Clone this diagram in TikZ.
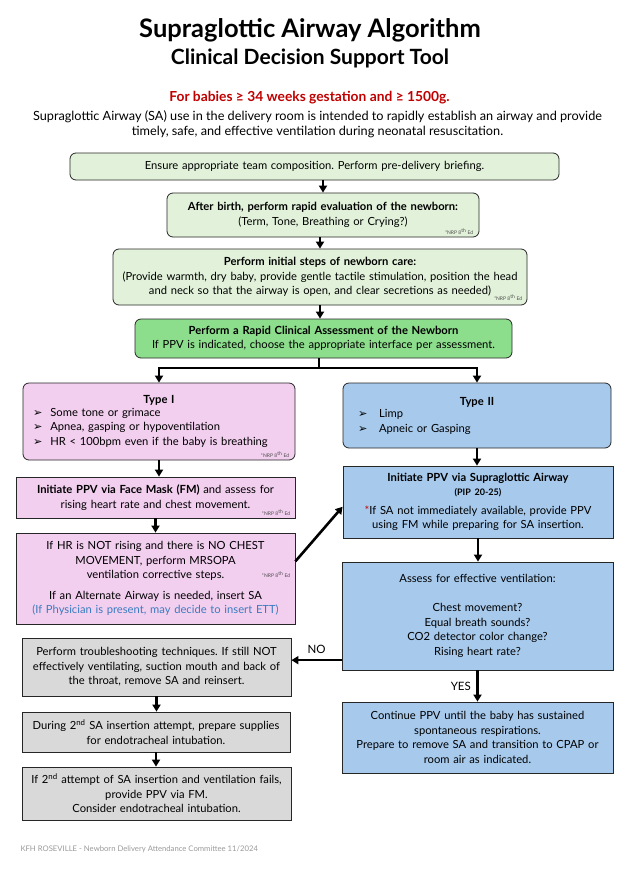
\documentclass[tikz,border=0pt]{standalone}
\usepackage{fontspec}
\setmainfont{Lato}
\newfontfamily\symfont{DejaVu Sans}
\usetikzlibrary{arrows.meta,positioning}
\definecolor{palegreen}{HTML}{E2F2DA}
\definecolor{midgreen}{HTML}{8CDD8C}
\definecolor{pinkfill}{HTML}{F2CEEF}
\definecolor{bluefill}{HTML}{A6C9EC}
\definecolor{grayfill}{HTML}{D9D9D9}
\definecolor{alertred}{HTML}{C00000}
\definecolor{linkblue}{HTML}{3A7CC0}
\newcommand{\nrp}{*NRP 8\textsuperscript{th} Ed}
\newcommand{\bul}[1][8pt]{\hspace*{#1}{\symfont ➢}\hspace{8pt}}
\frenchspacing

\begin{document}
\begin{tikzpicture}[x=1pt,y=-1pt,
  box/.style={draw=black!85, line width=0.8pt, align=center, inner sep=0pt,
    font=\fontsize{11.2}{14.5}\selectfont},
  soft/.style={box, rounded corners=6pt},
  wh/.code 2 args={\pgfmathsetmacro\tw{#1-4}\pgfkeysalso{/tikz/minimum width=#1pt,
    /tikz/minimum height=#2pt, /tikz/text width=\tw pt}},
  note/.style={font=\fontsize{5}{6}\selectfont, text=black!70, inner sep=0pt},
  arr/.style={line width=2.6pt, -{Triangle[length=7pt,width=8pt]}},
  link/.style={line width=2.6pt}]
\useasboundingbox (0,0) rectangle (635,879);
\node[anchor=base, font=\fontsize{25.5}{29}\selectfont\bfseries] (title) at (310,37) {Supraglottic Airway Algorithm};
\node[anchor=base, font=\fontsize{21}{24}\selectfont\bfseries] (subtitle) at (310,64) {Clinical Decision Support Tool};
\node[anchor=base, font=\fontsize{13.8}{16}\selectfont\bfseries, text=alertred] (scope) at (309.5,101) {For babies ≥ 34 weeks gestation and ≥ 1500g.};
\node[align=center, font=\fontsize{12.7}{15.5}\selectfont] (intro) at (317.5,124) {Supraglottic Airway (SA) use in the delivery room is intended to rapidly establish an airway and provide\\timely, safe, and effective ventilation during neonatal resuscitation.};

\node[soft, fill=palegreen, wh={489}{27}] (B1) at (314.5,166.5) {Ensure appropriate team composition. Perform pre-delivery briefing.};
\node[soft, fill=palegreen, wh={312}{44}] (B2) at (323,215) {\textbf{After birth, perform rapid evaluation of the newborn:}\\(Term, Tone, Breathing or Crying?)};
\node[note, above left=3pt and 6pt of B2.south east] {\nrp};
\node[soft, fill=palegreen, wh={414}{56}] (B3) at (320,277) {\textbf{Perform initial steps of newborn care:}\\(Provide warmth, dry baby, provide gentle tactile stimulation, position the head\\and neck so that the airway is open, and clear secretions as needed)};
\node[note, above left=5pt and 5pt of B3.south east] {\nrp};
\node[soft, fill=midgreen, wh={377}{39}] (B4) at (323.5,338.5) {\textbf{Perform a Rapid Clinical Assessment of the Newborn}\\If PPV is indicated, choose the appropriate interface per assessment.};

\node[soft, fill=pinkfill, wh={272}{77}, align=left] (T1) at (159,421.5) {\makebox[\tw pt]{\textbf{Type I}}\\[-2pt]\bul Some tone or grimace\\\bul Apnea, gasping or hypoventilation\\\bul HR < 100bpm even if the baby is breathing\\[12pt]};
\node[note, above left=3pt and 6pt of T1.south east] {\nrp};
\node[soft, fill=bluefill, wh={268}{65}, align=left] (T2) at (477,415.5) {\makebox[\tw pt]{\textbf{Type II}}\\[-2pt]\bul[13pt] Limp\\\bul[13pt] Apneic or Gasping\\[20pt]};

\node[box, fill=pinkfill, wh={279}{41}] (FM) at (155.5,497.5) {\textbf{Initiate PPV via Face Mask (FM)} and assess for\\rising heart rate and chest movement.};
\node[note, above left=3pt and 5pt of FM.south east] {\nrp};
\node[box, fill=pinkfill, wh={279}{91}] (MR) at (155.5,578.5) {If HR is NOT rising and there is NO CHEST\\MOVEMENT, perform MRSOPA\\ventilation corrective steps.\\[6pt]If an Alternate Airway is needed, insert SA\\\textcolor{linkblue}{(If Physician is present, may decide to insert ETT)}};
\node[note, left=5pt of MR.east, yshift=4pt] {\nrp};
\node[box, fill=bluefill, wh={270}{72}] (SA) at (478,502) {\textbf{Initiate PPV via Supraglottic Airway}\\{\fontsize{9}{12}\selectfont\bfseries (PIP 20-25)}\\[4pt]\textcolor{alertred}{*}If SA not immediately available, provide PPV\\using FM while preparing for SA insertion.};
\node[box, fill=bluefill, wh={271}{108}] (AS) at (477.5,616) {Assess for effective ventilation:\\[14.5pt]Chest movement?\\Equal breath sounds?\\CO2 detector color change?\\Rising heart rate?};
\node[box, fill=grayfill, wh={269}{58}] (G1) at (156.5,667) {Perform troubleshooting techniques. If still NOT\\effectively ventilating, suction mouth and back of\\the throat, remove SA and reinsert.};
\node[box, fill=grayfill, wh={268}{40}] (G2) at (156,732) {During 2\textsuperscript{nd} SA insertion attempt, prepare supplies\\for endotracheal intubation.};
\node[box, fill=grayfill, wh={269}{53}] (G3) at (156.5,793.5) {If 2\textsuperscript{nd} attempt of SA insertion and ventilation fails,\\provide PPV via FM.\\Consider endotracheal intubation.};
\node[box, fill=bluefill, wh={271}{71}] (CO) at (477.5,737.5) {Continue PPV until the baby has sustained\\spontaneous respirations.\\Prepare to remove SA and transition to CPAP or\\room air as indicated.};
\node[anchor=west, font=\fontsize{7.7}{9}\selectfont, text=black!40] (footer) at (17,849) {KFH ROSEVILLE - Newborn Delivery Attendance Committee 11/2024};

\draw[arr] (B2.north |- B1.south) -- (B2.north);
\draw[arr] (B3.north |- B2.south) -- (B3.north);
\draw[arr] (B3.south) -- (B3.south |- B4.north);
\coordinate (J) at (319,368);
\draw[link] (J |- B4.south) -- (J);
\draw[arr] (J) -| (T1.north);
\draw[arr] (J) -| (T2.north);
\draw[arr] (T1.south) -- (T1.south |- FM.north);
\draw[arr] (FM) -- (MR);
\draw[arr] (T2.south) -- (T2.south |- SA.north);
\draw[arr] (MR.7) -- (SA.182);
\draw[arr] (SA.south) -- (SA.south |- AS.north);
\draw[arr] (AS.198) -- node[above=2pt, font=\fontsize{11.5}{13}\selectfont]{NO} (AS.198 -| G1.east);
\draw[arr] (AS.south) -- node[left=2pt, font=\fontsize{11.5}{13}\selectfont]{YES} (AS.south |- CO.north);
\draw[arr] (G1.south) -- (G1.south |- G2.north);
\draw[arr] (G2.south) -- (G2.south |- G3.north);
\end{tikzpicture}
\end{document}
